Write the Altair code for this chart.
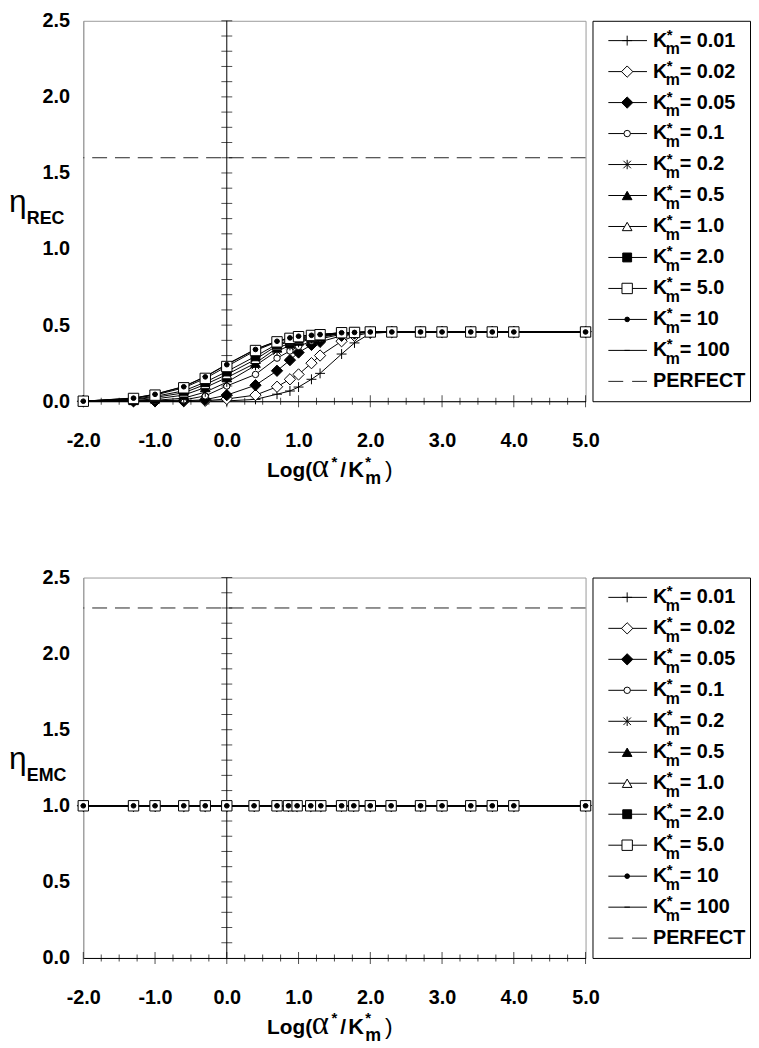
import altair as alt
import pandas as pd

# ---------------- data ----------------
SERIES = ["0.01", "0.02", "0.05", "0.1", "0.2", "0.5", "1.0", "2.0", "5.0", "10", "100"]

X_REC = [-2.0, -1.3, -1.0, -0.6, -0.3, 0.0, 0.4, 0.7, 0.88, 1.0, 1.18, 1.3, 1.6, 1.78, 2.0, 2.3, 2.7, 3.0, 3.4, 3.7, 4.0, 5.0]
REC_001 = [0.000, 0.000, 0.000, 0.000, 0.000, 0.002, 0.012, 0.046, 0.067, 0.093, 0.144, 0.183, 0.310, 0.383, 0.445, 0.455, 0.455, 0.455, 0.455, 0.455, 0.455, 0.455]
REC_002 = [0.000, 0.000, 0.000, 0.000, 0.003, 0.015, 0.040, 0.095, 0.144, 0.176, 0.250, 0.300, 0.394, 0.430, 0.450, 0.455, 0.455, 0.455, 0.455, 0.455, 0.455, 0.455]
REC_005 = [0.000, 0.000, 0.000, 0.002, 0.010, 0.040, 0.105, 0.200, 0.270, 0.320, 0.370, 0.390, 0.430, 0.445, 0.452, 0.455, 0.455, 0.455, 0.455, 0.455, 0.455, 0.455]
REC_01 = [0.000, 0.000, 0.002, 0.008, 0.035, 0.100, 0.176, 0.283, 0.330, 0.360, 0.395, 0.410, 0.440, 0.448, 0.453, 0.455, 0.455, 0.455, 0.455, 0.455, 0.455, 0.455]
REC_02 = [0.000, 0.002, 0.006, 0.020, 0.060, 0.125, 0.235, 0.330, 0.365, 0.385, 0.410, 0.420, 0.445, 0.450, 0.454, 0.455, 0.455, 0.455, 0.455, 0.455, 0.455, 0.455]
REC_05 = [0.000, 0.005, 0.015, 0.040, 0.090, 0.155, 0.250, 0.350, 0.380, 0.395, 0.415, 0.425, 0.447, 0.451, 0.455, 0.455, 0.455, 0.455, 0.455, 0.455, 0.455, 0.455]
REC_1 = [0.000, 0.010, 0.025, 0.055, 0.110, 0.175, 0.275, 0.365, 0.393, 0.405, 0.422, 0.430, 0.448, 0.452, 0.455, 0.455, 0.455, 0.455, 0.455, 0.455, 0.455, 0.455]
REC_2 = [0.000, 0.013, 0.032, 0.068, 0.125, 0.195, 0.295, 0.375, 0.400, 0.413, 0.427, 0.434, 0.449, 0.452, 0.455, 0.455, 0.455, 0.455, 0.455, 0.455, 0.455, 0.455]
REC_5 = [0.000, 0.018, 0.040, 0.088, 0.150, 0.228, 0.333, 0.390, 0.413, 0.424, 0.432, 0.437, 0.450, 0.452, 0.455, 0.455, 0.455, 0.455, 0.455, 0.455, 0.455, 0.455]
REC_10 = [0.000, 0.020, 0.045, 0.095, 0.160, 0.240, 0.340, 0.394, 0.416, 0.427, 0.433, 0.438, 0.450, 0.452, 0.455, 0.455, 0.455, 0.455, 0.455, 0.455, 0.455, 0.455]
REC_100 = [0.000, 0.021, 0.046, 0.097, 0.162, 0.243, 0.342, 0.395, 0.417, 0.428, 0.434, 0.439, 0.450, 0.452, 0.455, 0.455, 0.455, 0.455, 0.455, 0.455, 0.455, 0.455]
REC = dict(zip(SERIES, [REC_001, REC_002, REC_005, REC_01, REC_02, REC_05, REC_1, REC_2, REC_5, REC_10, REC_100]))

X_EMC = [-2.0, -1.3, -1.0, -0.6, -0.3, 0.0, 0.38, 0.7, 0.86, 0.98, 1.17, 1.31, 1.6, 1.77, 2.0, 2.29, 2.7, 3.0, 3.4, 3.7, 4.0, 5.0]
EMC_ALL = [1.0, 1.0, 1.0, 1.0, 1.0, 1.0, 1.0, 1.0, 1.0, 1.0, 1.0, 1.0, 1.0, 1.0, 1.0, 1.0, 1.0, 1.0, 1.0, 1.0, 1.0, 1.0]
EMC = {s: EMC_ALL for s in SERIES}

PERFECT_REC = 1.6
PERFECT_EMC = 2.3

X_LABELS = [-2, -1, 0, 1, 2, 3, 4, 5]
Y_LABELS = [0.0, 0.5, 1.0, 1.5, 2.0, 2.5]
X_TICKS = [-2.0, -1.75, -1.5, -1.25, -1.0, -0.75, -0.5, -0.25, 0.0, 0.25, 0.5, 0.75, 1.0, 1.25, 1.5, 1.75,
           2.0, 2.25, 2.5, 2.75, 3.0, 3.25, 3.5, 3.75, 4.0, 4.25, 4.5, 4.75, 5.0]
Y_TICKS = [0.1, 0.2, 0.3, 0.4, 0.5, 0.6, 0.7, 0.8, 0.9, 1.0, 1.1, 1.2, 1.3, 1.4, 1.5, 1.6, 1.7, 1.8, 1.9,
           2.0, 2.1, 2.2, 2.3, 2.4, 2.5]

LEG_ROWS = SERIES + ["PERFECT"]
LEG_EQ = ["= 0.01", "= 0.02", "= 0.05", "= 0.1", "= 0.2", "= 0.5", "= 1.0", "= 2.0", "= 5.0", "= 10", "= 100", "PERFECT"]

# ---------------- styling ----------------
FONT = "Liberation Sans"
W, H = 507, 384
LEG_W = 159
GRAY = "#9a9a9a"

SHAPES = ["M-1,0H1M0,-1V1", "diamond", "diamond", "circle",
          "M-0.8,-0.8L0.8,0.8M-0.8,0.8L0.8,-0.8M0,-1V1",
          "triangle-up", "triangle-up", "square", "square", "circle", "M-1,0H1"]
FILLS = ["transparent", "white", "black", "white", "transparent", "black", "white", "black", "white", "black", "transparent"]
SIZES = [100, 130, 130, 42, 90, 95, 95, 80, 110, 22, 30]


def series_points(base, xenc, yenc):
    out = []
    for i, s in enumerate(SERIES):
        c = base.transform_filter(alt.datum.series == s).mark_point(
            shape=SHAPES[i], size=SIZES[i], fill=FILLS[i], stroke="black",
            strokeWidth=1, opacity=1, fillOpacity=1, strokeOpacity=1,
        ).encode(x=xenc, y=yenc)
        out.append(c)
    return out


def text_piece(s, x, y, size, weight="bold", font=FONT, align="left", baseline="alphabetic"):
    return alt.Chart(pd.DataFrame({"t": [s]})).mark_text(
        align=align, baseline=baseline, font=font, fontSize=size, fontWeight=weight, color="black"
    ).encode(text="t:N", x=alt.value(x), y=alt.value(y))


def panel(xs, values, perfect, sub):
    rows = []
    for s in SERIES:
        for x, y in zip(xs, values[s]):
            rows.append({"series": s, "x": x, "y": y})
    df = pd.DataFrame(rows)
    xscale = alt.Scale(domain=[-2, 5], nice=False, zero=False)
    yscale = alt.Scale(domain=[0, 2.5], nice=False, zero=False)
    base = alt.Chart(df)

    lines = base.mark_line(color="black", strokeWidth=1).encode(
        x=alt.X("x:Q", scale=xscale, axis=alt.Axis(
            values=X_LABELS, labelExpr="replace(format(datum.value, '.1f'), '\u2212', '-')",
            ticks=False, tickSize=0, grid=False, domainColor="black", title=None,
            labelPadding=30, labelFlush=False)),
        y=alt.Y("y:Q", scale=yscale, axis=alt.Axis(
            values=Y_LABELS, format=".1f", ticks=False, tickSize=0, grid=False,
            domainColor=GRAY, title=None, labelPadding=14, labelFlush=False)),
        detail="series:N",
    )
    points = series_points(base, alt.X("x:Q"), alt.Y("y:Q"))
    vline = alt.Chart(pd.DataFrame({"x": [0.0]})).mark_rule(color="black", strokeWidth=1).encode(
        x=alt.X("x:Q"))
    yt = alt.Chart(pd.DataFrame({"y": Y_TICKS})).mark_tick(
        orient="horizontal", color="black", thickness=1, size=11).encode(
        y=alt.Y("y:Q"), x=alt.datum(0.0))
    xt_df = pd.DataFrame({"x": X_TICKS, "len": [12 if v == int(v) else 7 for v in X_TICKS]})
    xt = alt.Chart(xt_df).mark_tick(orient="vertical", color="black", thickness=1).encode(
        x=alt.X("x:Q"), y=alt.datum(0.0), size=alt.Size("len:Q", scale=None, legend=None))
    perf = alt.Chart(pd.DataFrame({"y": [perfect]})).mark_rule(
        color="#222222", strokeWidth=1, strokeDash=[15, 8]).encode(y=alt.Y("y:Q"))

    # axis titles built from pieces (sub/superscripts)
    eta = text_piece("\u03b7", -75, H / 2 + 1, 32, weight="normal")
    eta_sub = text_piece(sub, -57, H / 2 + 13, 18)
    x0 = W / 2 - 68
    yb = H + 77
    xtitle = [
        text_piece("Log(", x0, yb, 21),
        text_piece("\u03b1", x0 + 45, yb, 33, weight="normal", font="Liberation Serif"),
        text_piece("*", x0 + 65, yb - 11, 15),
        text_piece("/", x0 + 74, yb, 21),
        text_piece("K", x0 + 82, yb, 22),
        text_piece("*", x0 + 99, yb - 11, 15),
        text_piece("m", x0 + 99, yb + 7, 18),
        text_piece(")", x0 + 119, yb, 23, weight="normal"),
    ]
    layers = [lines, perf, vline, yt, xt] + points + [eta, eta_sub] + xtitle
    return alt.layer(*layers).properties(
        width=W, height=H, view=alt.ViewBackground(stroke=GRAY, strokeWidth=1))


def legend():
    ldf = pd.DataFrame({"row": LEG_ROWS, "series": LEG_ROWS, "eq": LEG_EQ})
    yenc = alt.Y("row:N", scale=alt.Scale(type="point", domain=LEG_ROWS, padding=0.64), axis=None)
    base = alt.Chart(ldf)
    not_p = alt.datum.row != "PERFECT"
    is_p = alt.datum.row == "PERFECT"
    solid = base.transform_filter(not_p).mark_rule(color="black", strokeWidth=1).encode(
        x=alt.value(16), x2=alt.value(55), y=yenc)
    dashed = base.transform_filter(is_p).mark_rule(color="#222222", strokeWidth=1, strokeDash=[15, 9]).encode(
        x=alt.value(16), x2=alt.value(55), y=yenc)
    pts = series_points(base, alt.value(35), yenc)
    tk = base.transform_filter(not_p).mark_text(
        text="K", align="left", baseline="middle", font=FONT, fontSize=20, fontWeight="bold", color="black"
    ).encode(x=alt.value(61), y=yenc)
    tstar = base.transform_filter(not_p).mark_text(
        text="*", align="left", baseline="middle", font=FONT, fontSize=15, fontWeight="bold", color="black", dy=-6
    ).encode(x=alt.value(75), y=yenc)
    tm = base.transform_filter(not_p).mark_text(
        text="m", align="left", baseline="middle", font=FONT, fontSize=16, fontWeight="bold", color="black", dy=9
    ).encode(x=alt.value(74), y=yenc)
    teq = base.transform_filter(not_p).mark_text(
        align="left", baseline="middle", font=FONT, fontSize=20, fontWeight="bold", color="black"
    ).encode(x=alt.value(88), y=yenc, text="eq:N")
    tp = base.transform_filter(is_p).mark_text(
        align="left", baseline="middle", font=FONT, fontSize=20, fontWeight="bold", color="black"
    ).encode(x=alt.value(61), y=yenc, text="eq:N")
    return alt.layer(solid, dashed, *pts, tk, tstar, tm, teq, tp).properties(
        width=LEG_W, height=H, view=alt.ViewBackground(stroke="black", strokeWidth=1))


top = panel(X_REC, REC, PERFECT_REC, "REC")
bot = panel(X_EMC, EMC, PERFECT_EMC, "EMC")

chart = alt.concat(
    top, legend(), bot, legend(), columns=2,
    spacing={"row": 178, "column": 7}, bounds="flush", align="each",
).properties(padding={"top": -3, "left": 0, "right": 0, "bottom": 0}).configure_axis(
    labelFont=FONT, labelFontSize=20, labelFontWeight="bold", labelColor="black",
    domainWidth=1,
)

chart.save("out.html", embed_options={"renderer": "svg", "actions": False})
